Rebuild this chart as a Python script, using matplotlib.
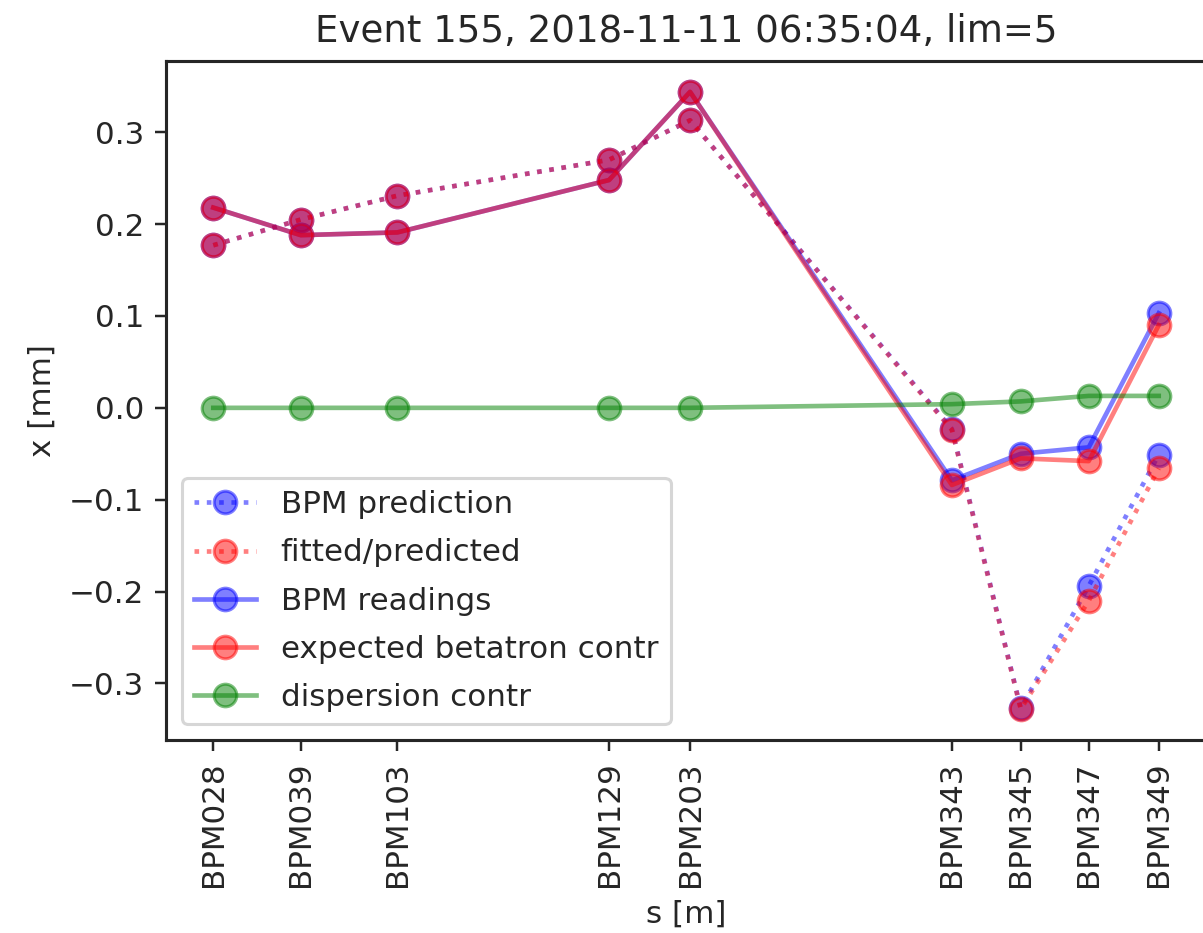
import numpy as np
import matplotlib
matplotlib.use('Agg')
import matplotlib.pyplot as plt

# BPM names and their longitudinal positions
bpm_names = ['BPM028', 'BPM039', 'BPM103', 'BPM129', 'BPM203',
             'BPM343', 'BPM345', 'BPM347', 'BPM349']
s_pos = [0.0, 38.9, 81.8, 175.8, 211.8, 328.1, 358.7, 388.9, 420.0]

# horizontal orbit values [mm]
bpm_prediction = [0.177, 0.205, 0.231, 0.270, 0.313, -0.023, -0.327, -0.194, -0.051]
fitted_predicted = [0.177, 0.205, 0.231, 0.270, 0.313, -0.024, -0.328, -0.210, -0.066]
bpm_readings = [0.218, 0.188, 0.191, 0.248, 0.344, -0.079, -0.050, -0.043, 0.103]
betatron_contr = [0.218, 0.188, 0.191, 0.248, 0.344, -0.084, -0.055, -0.058, 0.090]
dispersion_contr = [0.0, 0.0, 0.0, 0.0, 0.0, 0.004, 0.007, 0.013, 0.013]

plt.rcParams['text.color'] = '.15'
plt.rcParams['axes.labelcolor'] = '.15'
plt.rcParams['xtick.color'] = '.15'
plt.rcParams['ytick.color'] = '.15'
plt.rcParams['axes.edgecolor'] = '.15'
plt.rcParams['axes.linewidth'] = 1.0

dpi = 223
fig = plt.figure(figsize=(1203 / dpi, 933 / dpi), dpi=dpi)
ax = fig.add_axes([0.138, 0.2069, 0.8645, 0.7277])

ms = 7.3
ax.plot(s_pos, bpm_prediction, 'b:', marker='o', ms=ms, alpha=0.5, label='BPM prediction')
ax.plot(s_pos, fitted_predicted, 'r:', marker='o', ms=ms, alpha=0.5, label='fitted/predicted')
ax.plot(s_pos, bpm_readings, 'b-', marker='o', ms=ms, alpha=0.5, label='BPM readings')
ax.plot(s_pos, betatron_contr, 'r-', marker='o', ms=ms, alpha=0.5, label='expected betatron contr')
ax.plot(s_pos, dispersion_contr, 'g-', marker='o', ms=ms, alpha=0.5, label='dispersion contr')

ax.set_xticks(s_pos)
ax.set_xticklabels(bpm_names, rotation=90)
ax.set_yticks([-0.3, -0.2, -0.1, 0.0, 0.1, 0.2, 0.3])
ax.set_xlabel('s [m]')
ax.set_ylabel('x [mm]')
ax.set_title('Event 155, 2018-11-11 06:35:04, lim=5')
ax.legend(loc='lower left', labelspacing=0.62)

fig.savefig('out.png', dpi=dpi)
